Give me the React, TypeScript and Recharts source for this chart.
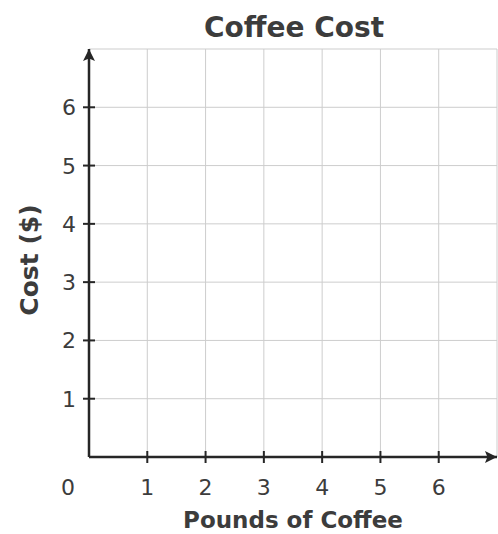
import React from 'react';
import { LineChart, Line, XAxis, YAxis, CartesianGrid } from 'recharts';

const title = 'Coffee Cost';
const xTitle = 'Pounds of Coffee';
const yTitle = 'Cost ($)';
const xTicks = [0, 1, 2, 3, 4, 5, 6, 7];
const yTicks = [0, 1, 2, 3, 4, 5, 6, 7];
const labelledTicks = [1, 2, 3, 4, 5, 6];
// the graph is blank: nothing has been plotted yet
const points: { pounds: number; cost: number }[] = [];

const FONT = '"DejaVu Sans", Verdana, sans-serif';
const INK = '#262626';
const TEXT = '#3c3c3c';

const XTick = ({ x, y, payload }: any) => {
  const v = payload.value;
  if (v === 7) return null;
  if (v === 0) {
    return (
      <text x={x - 21} y={y + 38} textAnchor="middle" fontSize={22} fill={TEXT} fontFamily={FONT}>
        0
      </text>
    );
  }
  return (
    <g>
      <line x1={x} x2={x} y1={y - 6} y2={y + 6} stroke={INK} strokeWidth={2} />
      {labelledTicks.includes(v) && (
        <text x={x} y={y + 38} textAnchor="middle" fontSize={22} fill={TEXT} fontFamily={FONT}>
          {v}
        </text>
      )}
    </g>
  );
};

const YTick = ({ x, y, payload }: any) => {
  const v = payload.value;
  if (!labelledTicks.includes(v)) return null;
  return (
    <g>
      <line x1={x - 6} x2={x + 6} y1={y} y2={y} stroke={INK} strokeWidth={2} />
      <text x={x - 13} y={y + 8} textAnchor="end" fontSize={22} fill={TEXT} fontFamily={FONT}>
        {v}
      </text>
    </g>
  );
};

export default function App() {
  return (
    <div style={{ position: 'absolute', left: 0, top: 0, width: 498, height: 534, background: '#fff' }}>
      <svg width={0} height={0} style={{ position: 'absolute' }}>
        <defs>
          <marker
            id="axis-arrow"
            viewBox="0 0 10 10"
            refX={10}
            refY={5}
            markerUnits="userSpaceOnUse"
            markerWidth={19}
            markerHeight={12}
            orient="auto-start-reverse"
          >
            <path d="M0,0 L10,5 L0,10 L2,5 z" fill={INK} />
          </marker>
        </defs>
      </svg>
      <LineChart width={498} height={534} data={points} margin={{ top: 49, right: 1, bottom: 0, left: 0 }}>
        <CartesianGrid stroke="#cdcdcd" strokeWidth={1} />
        <XAxis
          type="number"
          dataKey="pounds"
          domain={[0, 7]}
          allowDataOverflow
          ticks={xTicks}
          interval={0}
          height={77}
          tickSize={0}
          tickMargin={0}
          tickLine={false}
          tick={<XTick />}
          axisLine={{ stroke: INK, strokeWidth: 2.5, markerEnd: 'url(#axis-arrow)' }}
        />
        <YAxis
          type="number"
          domain={[0, 7]}
          allowDataOverflow
          ticks={yTicks}
          interval={0}
          width={89}
          tickSize={0}
          tickMargin={0}
          tickLine={false}
          tick={<YTick />}
          axisLine={{ stroke: INK, strokeWidth: 2.5, markerStart: 'url(#axis-arrow)' }}
        />
        <Line dataKey="cost" stroke={INK} dot={false} isAnimationActive={false} />
      </LineChart>
      <svg width={498} height={534} style={{ position: 'absolute', left: 0, top: 0, pointerEvents: 'none' }}>
        <text x={294} y={37} textAnchor="middle" fontSize={28} fontWeight="bold" fill={TEXT} fontFamily={FONT}>
          {title}
        </text>
        <text x={293} y={528} textAnchor="middle" fontSize={23} fontWeight="bold" fill={TEXT} fontFamily={FONT}>
          {xTitle}
        </text>
        <text
          x={0}
          y={0}
          transform="translate(38 260) rotate(-90)"
          textAnchor="middle"
          fontSize={25}
          fontWeight="bold"
          fill={TEXT}
          fontFamily={FONT}
        >
          {yTitle}
        </text>
      </svg>
    </div>
  );
}
